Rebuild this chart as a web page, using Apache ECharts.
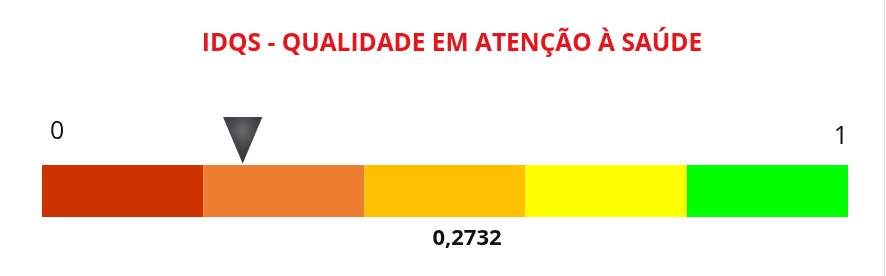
<!DOCTYPE html>
<html><head><meta charset="utf-8">
<script src="https://cdn.jsdelivr.net/npm/echarts@6/dist/echarts.min.js"></script>
<style>html,body{margin:0;padding:0;background:#fff}#c{width:886px;height:276px}</style>
</head><body><div id="c"></div>
<script>
const titleText = 'IDQS - QUALIDADE EM ATENÇÃO À SAÚDE';
const bands = [0.2, 0.2, 0.2, 0.2, 0.2];
const bandColors = ['#CC3300', '#ED7D31', '#FFC000', '#FFFF00', '#00FF00'];
const tickLabels = ['0', '1'];
const score = 0.2732;
const markerPos = 0.249;

const chart = echarts.init(document.getElementById('c'), null, {renderer: 'canvas'});
const series = bands.map((v, i) => ({
  type: 'bar', stack: 'g', data: [v], barWidth: '100%',
  itemStyle: {color: bandColors[i]}, silent: true
}));
series.push({
  type: 'scatter', data: [[markerPos, 0]],
  symbol: 'path://M0,0 L10,0 L5,12 Z', symbolSize: [38, 45], symbolOffset: [0, -51],
  itemStyle: {
    color: {type: 'radial', x: 0.5, y: 0.3, r: 0.55,
      colorStops: [{offset: 0, color: '#444444'}, {offset: 0.6, color: '#1a1a1a'}, {offset: 1, color: '#080808'}]},
    borderColor: '#2a3550', borderWidth: 1
  }, z: 5
});
chart.setOption({
  animation: false,
  title: [
    {text: titleText, left: 447, top: 27, textAlign: 'center',
     textStyle: {color: '#E8141B', fontFamily: 'Open Sans', fontWeight: 'bold', fontSize: 24.5}},
    {text: String(score).replace('.', ','), left: 462, top: 223, textAlign: 'center',
     textStyle: {color: '#111', fontFamily: 'Open Sans', fontWeight: 'bold', fontSize: 22}}
  ],
  grid: {left: 42, right: 38, top: 165, bottom: 59},
  xAxis: {
    type: 'value', min: 0, max: 1, interval: 1, position: 'top',
    axisLine: {show: false}, axisTick: {show: false}, splitLine: {show: false},
    axisLabel: {
      margin: 16, fontSize: 25, color: '#111', fontFamily: 'Open Sans',
      alignMinLabel: 'left', alignMaxLabel: 'right',
      formatter: v => v === 0 ? '{a|' + tickLabels[0] + '}' : '{b|' + tickLabels[1] + '}',
      rich: {
        a: {fontSize: 25, color: '#111', fontFamily: 'Open Sans', padding: [0, 0, 5, 8]},
        b: {fontSize: 25, color: '#111', fontFamily: 'Open Sans', padding: [0, 0, 0, 0]}
      }
    }
  },
  yAxis: {type: 'category', data: ['g'], show: false},
  series: series,
  graphic: [{type: 'line', shape: {x1: 884.5, y1: 0, x2: 884.5, y2: 276}, style: {stroke: '#d9d9d9', lineWidth: 1}}]
});
</script></body></html>
